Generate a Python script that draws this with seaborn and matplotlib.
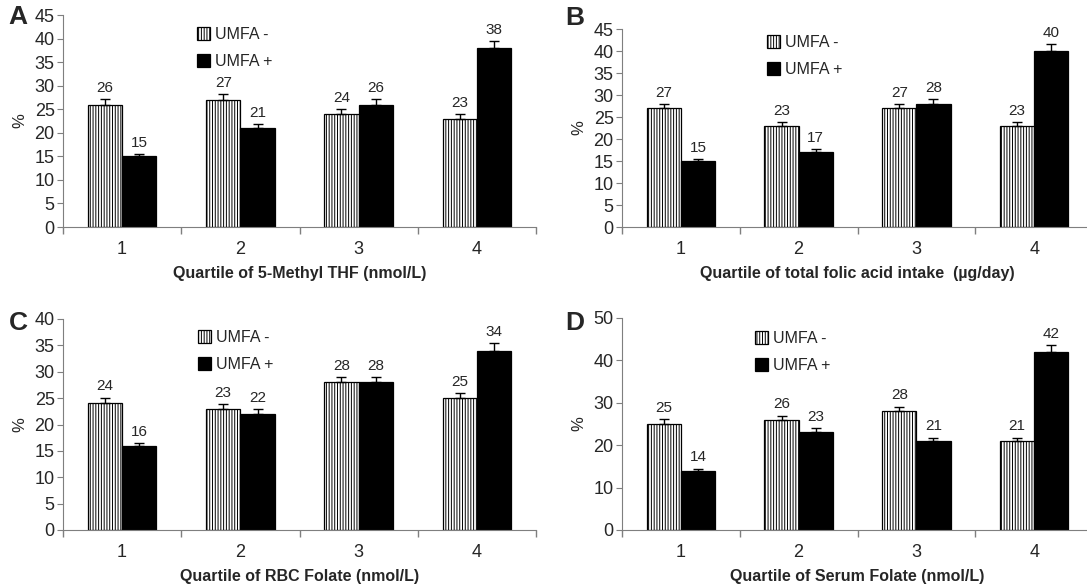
import numpy as np
import pandas as pd
import seaborn as sns
import matplotlib.pyplot as plt

sns.set_style("ticks")
plt.rcParams['font.family'] = ['Liberation Sans', 'DejaVu Sans']
plt.rcParams['hatch.linewidth'] = 0.7

quartiles = ["1", "2", "3", "4"]
groups = ["UMFA -", "UMFA +"]

# panel A: 5-Methyl THF
a_minus = [26, 27, 24, 23]
a_plus = [15, 21, 26, 38]
a_err_minus = [1.2, 1.3, 1.0, 0.9]
a_err_plus = [0.5, 0.8, 1.2, 1.5]

# panel B: total folic acid intake
b_minus = [27, 23, 27, 23]
b_plus = [15, 17, 28, 40]
b_err_minus = [0.9, 0.8, 0.9, 0.75]
b_err_plus = [0.45, 0.7, 1.05, 1.65]

# panel C: RBC folate
c_minus = [24, 23, 28, 25]
c_plus = [16, 22, 28, 34]
c_err_minus = [1.1, 0.8, 1.05, 0.95]
c_err_plus = [0.45, 0.95, 1.05, 1.4]

# panel D: serum folate
d_minus = [25, 26, 28, 21]
d_plus = [14, 23, 21, 42]
d_err_minus = [1.2, 1.0, 1.1, 0.8]
d_err_plus = [0.5, 1.1, 0.8, 1.6]

panels = [
    ("A", a_minus, a_plus, a_err_minus, a_err_plus, 45, 5,
     "Quartile of 5-Methyl THF (nmol/L)"),
    ("B", b_minus, b_plus, b_err_minus, b_err_plus, 45, 5,
     "Quartile of total folic acid intake  (\u00b5g/day)"),
    ("C", c_minus, c_plus, c_err_minus, c_err_plus, 40, 5,
     "Quartile of RBC Folate (nmol/L)"),
    ("D", d_minus, d_plus, d_err_minus, d_err_plus, 50, 10,
     "Quartile of Serum Folate (nmol/L)"),
]

W, H = 1087, 587
# axes boxes in pixels: left, top, right, bottom
boxes = [(63, 15, 536, 227), (622, 29, 1093, 227),
         (63, 319, 536, 530), (622, 318, 1093, 530)]
legend_pos = [(197, 27), (767, 35), (198, 330), (755, 331)]
letter_pos = [(18, 17), (575, 18), (18, 323), (575, 323)]

fig = plt.figure(figsize=(W / 100, H / 100), dpi=100)
axis_gray = "#7f7f7f"

for (letter, vm, vp, em, ep, ymax, ystep, xlabel), (l, t, r, b), (lx, ly), (tx, ty) in zip(
        panels, boxes, legend_pos, letter_pos):
    ax = fig.add_axes([l / W, 1 - b / H, (r - l) / W, (b - t) / H])
    df = pd.DataFrame({
        "quartile": quartiles * 2,
        "group": [groups[0]] * 4 + [groups[1]] * 4,
        "value": vm + vp,
    })
    sns.barplot(data=df, x="quartile", y="value", hue="group", hue_order=groups,
                palette=["white", "black"], width=0.58, gap=0, saturation=1,
                edgecolor="black", linewidth=0.9, legend=False, ax=ax)
    for bar in ax.containers[0]:
        bar.set_hatch("||||||")
    for cont, errs in zip(ax.containers[:2], [em, ep]):
        for bar, e in zip(cont, errs):
            x = bar.get_x() + bar.get_width() / 2
            h = bar.get_height()
            ax.errorbar(x, h, yerr=[[0], [e]], fmt="none", ecolor="black",
                        elinewidth=1, capsize=3.6, capthick=1)
            ax.annotate(f"{h:.0f}", (x, h + e), xytext=(0, 3), textcoords="offset points",
                        ha="center", va="bottom", fontsize=11)
    ax.legend(handles=[ax.containers[0][0], ax.containers[1][0]], labels=groups,
              loc="upper left", bbox_to_anchor=((lx - l) / (r - l), 1 - (ly - t) / (b - t)),
              frameon=False, fontsize=11.5, handlelength=0.8, handleheight=0.8,
              handletextpad=0.3, labelspacing=0.75, borderaxespad=0, borderpad=0)

    ax.set_xlim(-0.5, 3.5)
    ax.set_ylim(0, ymax)
    ax.set_yticks(np.arange(0, ymax + 1, ystep))
    ax.set_xticks(np.arange(-0.5, 4, 1), minor=True)
    ax.tick_params(axis="x", which="major", length=0, labelsize=13, pad=10)
    ax.tick_params(axis="x", which="minor", length=5, color=axis_gray, width=1)
    ax.tick_params(axis="y", length=4, color=axis_gray, labelsize=13, pad=2)
    for side in ["left", "bottom"]:
        ax.spines[side].set_color(axis_gray)
    sns.despine(ax=ax)
    ax.set_xlabel(xlabel, fontsize=11.5, fontweight="bold", labelpad=6)
    ax.set_ylabel("%", fontsize=12, labelpad=5)
    fig.text(tx / W, 1 - ty / H, letter, fontsize=19, fontweight="bold",
             ha="center", va="center")

fig.savefig("out.png", dpi=100)
